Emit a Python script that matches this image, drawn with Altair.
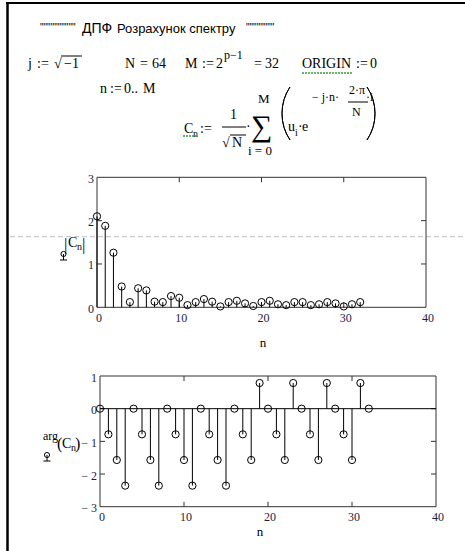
import altair as alt
import pandas as pd

# ---- DFT spectrum values: index n, magnitude |C_n| and phase arg(C_n) ----
n_index = list(range(33))
magnitude = [2.10, 1.88, 1.26, 0.48, 0.12, 0.44, 0.39, 0.13, 0.12, 0.26, 0.22,
             0.05, 0.12, 0.19, 0.13, 0.02, 0.12, 0.15, 0.09, 0.03, 0.12, 0.15,
             0.07, 0.05, 0.12, 0.12, 0.05, 0.07, 0.12, 0.09, 0.02, 0.07, 0.12]
phase = [0.000, -0.785, -1.571, -2.356, 0.000, -0.785, -1.571, -2.356,
         0.000, -0.785, -1.571, -2.356, 0.000, -0.785, -1.571, -2.356,
         0.000, -0.785, -1.571, 0.785, 0.000, -0.785, -1.571, 0.785,
         0.000, -0.785, -1.571, 0.785, 0.000, -0.785, -1.571, 0.785, 0.000]

n_ticks = [0, 10, 20, 30, 40]
n_inner_ticks = [10, 20, 30]
mag_ticks = [0, 1, 2, 3]
mag_inner_ticks = [1, 2]
phase_ticks = [-3, -2, -1, 0, 1]
phase_inner_ticks = [-2, -1, 0]

# ---- page layout ----
W, H = 465, 551
SERIF = "Liberation Serif"
SANS = "Liberation Sans"
INK = "#000000"
LABEL_INK = "#1c1c48"
FRAME_INK = "#333333"
GREEN = "#3a9a3a"
one_row = pd.DataFrame({"k": [0]})


def note(text, x, y, size=14, font=SERIF, color=INK, align="left"):
    return alt.Chart(one_row).mark_text(
        text=text, align=align, baseline="alphabetic", font=font,
        fontSize=size, color=color
    ).encode(x=alt.value(x), y=alt.value(y))


def line(x1, y1, x2, y2, color=INK, width=1.0, dash=None):
    kw = dict(color=color, strokeWidth=width)
    if dash:
        kw["strokeDash"] = dash
    return alt.Chart(one_row).mark_rule(**kw).encode(
        x=alt.value(x1), y=alt.value(y1), x2=alt.value(x2), y2=alt.value(y2))


def paren(cx, cy, r, t0, t1):
    return alt.Chart(one_row).mark_arc(
        stroke=INK, strokeWidth=1, fillOpacity=0
    ).encode(x=alt.value(cx), y=alt.value(cy), radius=alt.value(r),
             radius2=alt.value(r), theta=alt.value(t0), theta2=alt.value(t1))


def trace_icon(x, y):
    dot = alt.Chart(one_row).mark_point(
        shape="circle", filled=False, size=26, color=INK, strokeWidth=1, opacity=1
    ).encode(x=alt.value(x), y=alt.value(y))
    return [line(x, y, x, y + 6), line(x - 3.5, y + 6, x + 3.5, y + 6), dot]


def tick_text(v):
    return "\u2212 %g" % (-v) if v < 0 else "%g" % v


def stem_panel(values, y_domain, y_ticks, y_inner, box, x_label_dy, zero_line=False):
    left, right, top, bottom = box
    xs = alt.Scale(domain=[0, 40], range=[left, right], nice=False, zero=False)
    ys = alt.Scale(domain=y_domain, range=[bottom, top], nice=False, zero=False)
    X = lambda f: alt.X(f, scale=xs, axis=None)
    Y = lambda f: alt.Y(f, scale=ys, axis=None)
    pts = pd.DataFrame({"n": n_index, "v": values, "base": [0] * len(n_index)})

    frame_df = pd.DataFrame({"x0": [0], "x1": [40],
                             "y0": [y_domain[0]], "y1": [y_domain[1]]})
    frame = alt.Chart(frame_df).mark_rect(
        fillOpacity=0, stroke=FRAME_INK, strokeWidth=1
    ).encode(x=X("x0:Q"), x2="x1", y=Y("y0:Q"), y2="y1")

    # short tick marks pointing into the plot box on all four sides
    yt = pd.DataFrame({"v": y_inner, "lo": [0] * len(y_inner),
                       "hi": [40] * len(y_inner)})
    xt = pd.DataFrame({"n": n_inner_ticks,
                       "lo": [y_domain[0]] * len(n_inner_ticks),
                       "hi": [y_domain[1]] * len(n_inner_ticks)})
    tick_style = dict(size=5, thickness=1, color=FRAME_INK, opacity=1)
    ticks = [
        alt.Chart(yt).mark_tick(orient="horizontal", xOffset=2.5, **tick_style).encode(
            x=X("lo:Q"), y=Y("v:Q")),
        alt.Chart(yt).mark_tick(orient="horizontal", xOffset=-2.5, **tick_style).encode(
            x=X("hi:Q"), y=Y("v:Q")),
        alt.Chart(xt).mark_tick(orient="vertical", yOffset=2.5, **tick_style).encode(
            x=X("n:Q"), y=Y("hi:Q")),
        alt.Chart(xt).mark_tick(orient="vertical", yOffset=-2.5, **tick_style).encode(
            x=X("n:Q"), y=Y("lo:Q")),
    ]

    # tick labels placed through the panel scales
    xl = pd.DataFrame({"t": n_ticks, "lab": [tick_text(t) for t in n_ticks],
                       "at": [y_domain[0]] * len(n_ticks)})
    yl = pd.DataFrame({"t": y_ticks, "lab": [tick_text(t) for t in y_ticks],
                       "at": [0] * len(y_ticks)})
    label_style = dict(font=SERIF, fontSize=12, color=LABEL_INK, baseline="middle")
    labels = [
        alt.Chart(xl).mark_text(align="center", dx=2, dy=x_label_dy, **label_style).encode(
            x=X("t:Q"), y=Y("at:Q"), text="lab:N"),
        alt.Chart(yl).mark_text(align="right", dx=-3, dy=1.5, **label_style).encode(
            x=X("at:Q"), y=Y("t:Q"), text="lab:N"),
    ]

    layers = [frame] + ticks + labels
    if zero_line:
        zl = pd.DataFrame({"a": [0], "b": [40], "y": [0]})
        layers.append(alt.Chart(zl).mark_rule(color=INK, strokeWidth=1).encode(
            x=X("a:Q"), x2="b", y=Y("y:Q")))

    stems = alt.Chart(pts).mark_rule(color=INK, strokeWidth=1).encode(
        x=X("n:Q"), y=Y("v:Q"), y2="base")
    marks = alt.Chart(pts).mark_point(
        shape="circle", filled=False, size=52, color=INK, strokeWidth=1, opacity=1
    ).encode(x=X("n:Q"), y=Y("v:Q"))
    layers += [stems, marks]
    return alt.layer(*layers)


magnitude_panel = stem_panel(magnitude, [0, 3], mag_ticks, mag_inner_ticks,
                             (97, 426, 177.3, 307.3), 11)
phase_panel = stem_panel(phase, [-3, 1], phase_ticks, phase_inner_ticks,
                         (100, 436, 376, 506.7), 10.5, zero_line=True)

# ---- worksheet text: heading, definitions and the DFT formula ----
sheet = [
    line(7.5, 2, 7.5, H, width=2.5),
    line(6, 3, W, 3, width=2),
    note('""""""""""', 40, 30.5, size=10, font=SANS),
    note("ДПФ", 82, 33, size=14, font=SANS),
    note("Розрахунок  спектру", 117, 33, size=13, font=SANS),
    note('""""""""', 246, 30.5, size=10, font=SANS),
    # j := sqrt(-1)
    note("j", 28, 68), note(":=", 37, 68), note("√", 54, 68),
    note("−1", 64, 68), line(61, 56, 82, 56),
    note("N", 125, 68), note("=", 140, 68), note("64", 152, 68),
    note("M", 185, 68), note(":=", 202, 68), note("2", 216, 68),
    note("p−1", 224, 59, size=12), note("=", 254, 68), note("32", 265, 68),
    note("ORIGIN", 302, 68), note(":=", 356, 68), note("0", 370, 68),
    line(302, 73, 353, 73, color=GREEN, width=1.5, dash=[2, 1]),
    note("n", 100, 93), note(":=", 110, 93), note("0..", 124, 93), note("M", 143, 93),
    # C_n := 1/sqrt(N) * sum_{i=0}^{M} u_i * e^(-j*n*2*pi/N*i)
    note("C", 184, 133), note("n", 193, 137, size=10), note(":=", 200, 133),
    line(183, 136, 197, 136, color=GREEN, width=1.5, dash=[2, 1]),
    note("1", 230, 119), line(222, 127, 246, 127),
    note("√", 222, 147), note("N", 232, 147), line(230, 135, 246, 135),
    note("·", 246, 131),
    note("∑", 251, 136, size=30), note("M", 258, 103, size=13),
    note("i = 0", 248, 155, size=13),
    paren(330, 113.5, 48, 4.127, 5.297),
    note("u", 288, 131), note("i", 295, 136, size=10), note("·", 298, 131),
    note("e", 302, 131),
    note("− j·n·", 312, 101, size=12), note("2·π", 349, 94, size=12),
    line(348, 102, 368, 102), note("N", 352, 116, size=12), note("·i", 366, 101, size=12),
    paren(327, 113.5, 48, 0.986, 2.156),
    # y captions of both plots and the x caption n
    note("|", 64, 250, size=17), note("C", 68, 247), note("n", 77, 250, size=10),
    note("|", 82, 250, size=17),
    note("arg", 43, 440, size=12), note("(", 57, 449, size=16), note("C", 62, 448),
    note("n", 71, 451, size=10), note(")", 75, 449, size=16),
    note("n", 263, 347, size=13, align="center"),
    note("n", 260, 536, size=13, align="center"),
    # page-break marker
    line(10, 236.7, W, 236.7, color="#bdbdbd", width=1, dash=[5, 3]),
]
sheet += trace_icon(63.5, 254) + trace_icon(47, 455)

chart = alt.layer(*sheet, magnitude_panel, phase_panel).resolve_scale(
    x="independent", y="independent"
).properties(
    width=W, height=H, padding=0, background="white",
    autosize=alt.AutoSizeParams(type="none")
).configure_view(stroke=None)

chart.save("out.html", embed_options={"renderer": "svg", "actions": False})
